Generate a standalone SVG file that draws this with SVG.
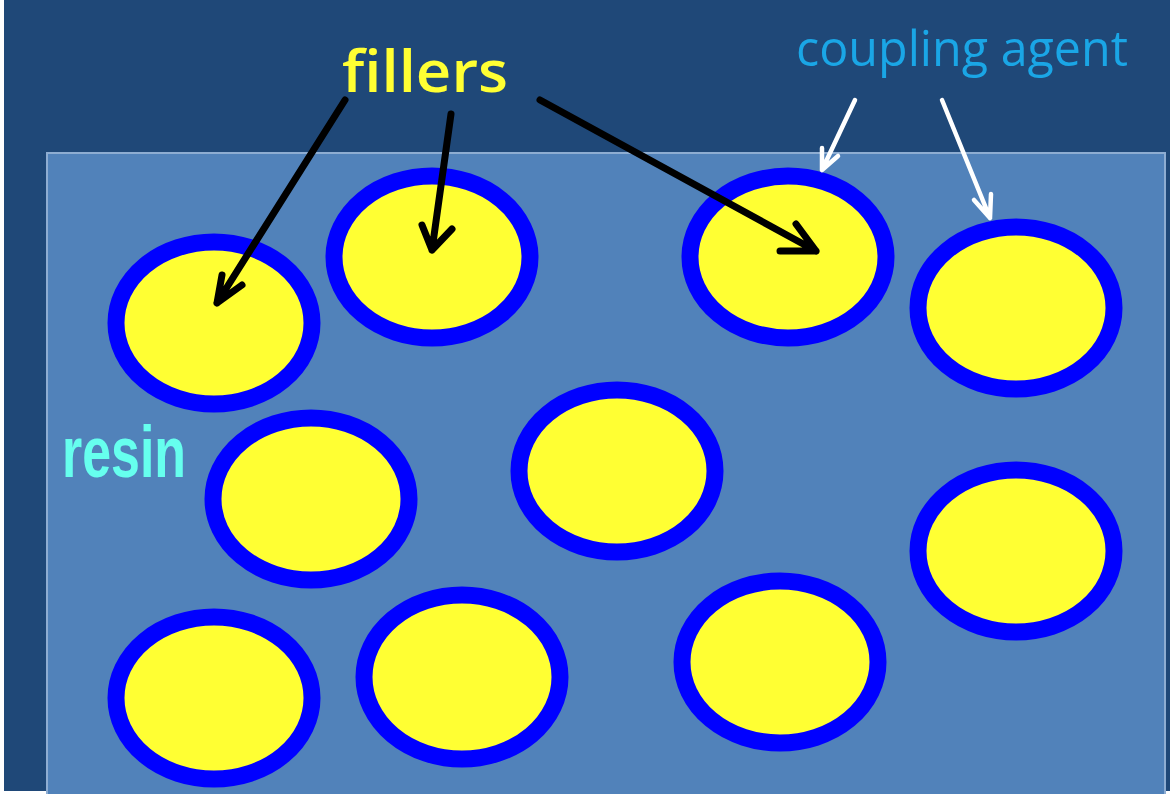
<svg xmlns="http://www.w3.org/2000/svg" width="1170" height="794" viewBox="0 0 1170 794">
<style>
.f{fill:#FFFF33;stroke:#0000FF;stroke-width:17}
.blk{fill:none;stroke:#000;stroke-width:7;stroke-linecap:round;stroke-linejoin:round}
.wht{fill:none;stroke:#fff;stroke-width:4.5;stroke-linecap:round;stroke-linejoin:round}
</style>
<rect x="0" y="0" width="1170" height="794" fill="#fff"/>
<rect x="4" y="0" width="1166" height="791" fill="#1F4878"/>
<rect id="resin-box" x="47" y="153" width="1118" height="660" fill="#5182BA" stroke="#8EADD2" stroke-width="2"/>
<g id="fillers-nodes">
<ellipse id="p1" class="f" cx="214" cy="323" rx="98" ry="81"/>
<ellipse id="p2" class="f" cx="432" cy="257" rx="98" ry="81"/>
<ellipse id="p3" class="f" cx="788" cy="257" rx="98" ry="81"/>
<ellipse id="p4" class="f" cx="1016" cy="308" rx="98" ry="81"/>
<ellipse id="p5" class="f" cx="311" cy="499" rx="98" ry="81"/>
<ellipse id="p6" class="f" cx="617" cy="471" rx="98" ry="81"/>
<ellipse id="p7" class="f" cx="1016" cy="551" rx="98" ry="81"/>
<ellipse id="p8" class="f" cx="214" cy="698" rx="98" ry="81"/>
<ellipse id="p9" class="f" cx="462" cy="677" rx="98" ry="82"/>
<ellipse id="p10" class="f" cx="780" cy="662" rx="98" ry="81"/>
</g>
<g id="labels">
<text id="fillers" x="342" y="92" font-family="'Open Sans', 'Noto Sans', sans-serif" font-size="57" font-weight="600" fill="#FFFF33" textLength="166" lengthAdjust="spacingAndGlyphs">fillers</text>
<text id="coupling" x="796" y="66" font-family="'Open Sans', 'Noto Sans', sans-serif" font-size="49" fill="#1AA6E6" textLength="332" lengthAdjust="spacingAndGlyphs">coupling agent</text>
<text id="resin" x="62" y="477" font-family="'Liberation Sans', Arial, sans-serif" font-size="72" font-weight="bold" fill="#66FFEE" textLength="124" lengthAdjust="spacingAndGlyphs">resin</text>
</g>
<g id="connectors">
<path class="blk" d="M345,100 L217,303 M217,303 L222,275 M217,303 L242,285"/>
<path class="blk" d="M451,114 L432,250 M432,250 L422,225 M432,250 L452,229"/>
<path class="blk" d="M540,100 L816,251 M816,251 L780,251 M816,251 L796,224"/>
<path class="wht" d="M855,100 L822,170 M822,170 L822,148 M822,170 L838,156"/>
<path class="wht" d="M942,100 L990,218 M990,218 L974,200 M990,218 L991,194"/>
</g>
</svg>
